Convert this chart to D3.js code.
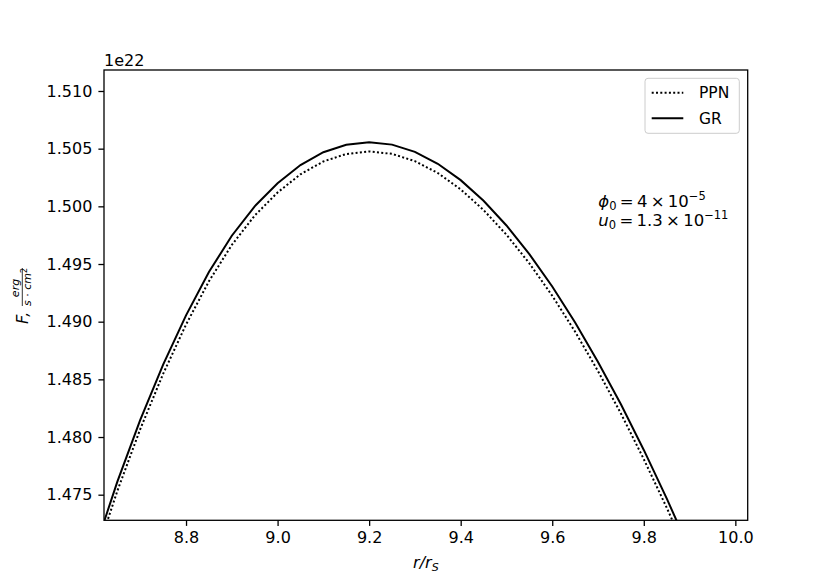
<!DOCTYPE html>
<html>
<head>
<meta charset="utf-8">
<script src="https://cdn.jsdelivr.net/npm/d3@7"></script>
<style>
  body { margin: 0; background: #fff; }
  svg text { font-family: "DejaVu Sans", sans-serif; fill: #000; }
</style>
</head>
<body>
<svg id="chart" width="831" height="585"></svg>
<script>
//-------------------------------------------------
// Data (flux values in units of 1e22)
//-------------------------------------------------
var radius = [8.60, 8.65, 8.70, 8.75, 8.80, 8.85, 8.90, 8.95, 9.00, 9.05, 9.10, 9.15, 9.20,
              9.25, 9.30, 9.35, 9.40, 9.45, 9.50, 9.55, 9.60, 9.65, 9.70, 9.75, 9.80, 9.85, 9.90];
var fluxGR  = [1.47017, 1.47613, 1.48149, 1.48628, 1.49055, 1.49430, 1.49745, 1.50000, 1.50200,
               1.50358, 1.50469, 1.50534, 1.50556, 1.50535, 1.50472, 1.50369, 1.50227, 1.50048,
               1.49834, 1.49586, 1.49305, 1.48993, 1.48651, 1.48284, 1.47888, 1.47468, 1.47023];
var fluxPPN = [1.46937, 1.47533, 1.48069, 1.48548, 1.48975, 1.49350, 1.49665, 1.49920, 1.50120,
               1.50278, 1.50389, 1.50454, 1.50476, 1.50455, 1.50392, 1.50289, 1.50147, 1.49968,
               1.49754, 1.49506, 1.49225, 1.48913, 1.48571, 1.48204, 1.47808, 1.47388, 1.46943];
var xTicks = [8.8, 9.0, 9.2, 9.4, 9.6, 9.8, 10.0];
var yTicks = [1.475, 1.480, 1.485, 1.490, 1.495, 1.500, 1.505, 1.510];
var seriesNames = ["PPN", "GR"];

//-------------------------------------------------
var margin = {top: 70, right: 83.3, bottom: 64.7, left: 104};
var W = 831, H = 585;
var width = W - margin.left - margin.right;
var height = H - margin.top - margin.bottom;

var svg = d3.select("#chart");
var g = svg.append("g").attr("transform", "translate(" + margin.left + "," + margin.top + ")");

var x = d3.scaleLinear().domain([8.6208, 10.027]).range([0, width]);
var y = d3.scaleLinear().domain([1.47278, 1.51182]).range([height, 0]);

g.append("defs").append("clipPath").attr("id", "clip")
  .append("rect").attr("width", width).attr("height", height);

// curves
var line = d3.line()
  .x(function(d, i) { return x(radius[i]); })
  .y(function(d) { return y(d); });

var plot = g.append("g").attr("clip-path", "url(#clip)");
plot.append("path")
  .datum(fluxPPN)
  .attr("d", line)
  .attr("fill", "none")
  .attr("stroke", "#000")
  .attr("stroke-width", 2)
  .attr("stroke-dasharray", "2,2.3");
plot.append("path")
  .datum(fluxGR)
  .attr("d", line)
  .attr("fill", "none")
  .attr("stroke", "#000")
  .attr("stroke-width", 2);

// axes
var xAxis = g.append("g")
  .attr("transform", "translate(0," + height + ")")
  .call(d3.axisBottom(x).tickValues(xTicks).tickFormat(d3.format(".1f")).tickSizeOuter(0).tickSize(5.6).tickPadding(6));
var yAxis = g.append("g")
  .call(d3.axisLeft(y).tickValues(yTicks).tickFormat(d3.format(".3f")).tickSizeOuter(0).tickSize(5.6).tickPadding(6));
[xAxis, yAxis].forEach(function(a) {
  a.select(".domain").remove();
  a.selectAll("line").attr("stroke", "#000").attr("stroke-width", 1.3);
  a.selectAll("text").attr("font-size", 16).style("font-family", "DejaVu Sans");
});

// frame
g.append("rect")
  .attr("width", width).attr("height", height)
  .attr("fill", "none").attr("stroke", "#000").attr("stroke-width", 1.3);

// offset text
g.append("text").attr("x", 0).attr("y", -4).attr("font-size", 16).text("1e22");

// x label r/r_S
var xl = svg.append("text")
  .attr("x", margin.left + width / 2).attr("y", 568)
  .attr("text-anchor", "middle").attr("font-size", 16);
xl.append("tspan").attr("font-style", "italic").text("r/r");
xl.append("tspan").attr("font-style", "italic").attr("font-size", 11).attr("dy", 3).text("S");

// y label F, erg / (s·cm²)
var yl = svg.append("g").attr("transform", "rotate(-90)");
yl.append("text").attr("x", -324).attr("y", 28.3).attr("font-size", 16)
  .attr("font-style", "italic").text("F,");
yl.append("text").attr("x", -288).attr("y", 18.8).attr("font-size", 11)
  .attr("text-anchor", "middle").attr("font-style", "italic").text("erg");
yl.append("line").attr("x1", -306).attr("x2", -268).attr("y1", 22.3).attr("y2", 22.3)
  .attr("stroke", "#000").attr("stroke-width", 0.8);
var den = yl.append("text").attr("x", -287).attr("y", 31.2).attr("font-size", 11)
  .attr("text-anchor", "middle");
den.append("tspan").attr("font-style", "italic").text("s");
den.append("tspan").text(" \u00b7 ");
den.append("tspan").attr("font-style", "italic").text("cm");
den.append("tspan").attr("font-size", 8).attr("dy", -4).text("2");

// legend
var leg = g.append("g").attr("transform", "translate(" + (645 - margin.left) + "," + (78.3 - margin.top) + ")");
leg.append("rect")
  .attr("width", 94.3).attr("height", 55).attr("rx", 3)
  .attr("fill", "#fff").attr("fill-opacity", 0.8)
  .attr("stroke", "#cccccc").attr("stroke-width", 1);
seriesNames.forEach(function(name, i) {
  var ly = 14.4 + i * 25.6;
  leg.append("line").attr("x1", 6.7).attr("x2", 38.3).attr("y1", ly).attr("y2", ly)
    .attr("stroke", "#000").attr("stroke-width", 2)
    .attr("stroke-dasharray", name == "PPN" ? "2,2.3" : null);
  leg.append("text").attr("x", 54).attr("y", ly + 5.5).attr("font-size", 15.5).text(name);
});

// annotation
var ann = svg.append("g").attr("font-size", 16.5);
var t1 = ann.append("text").attr("x", 598.3).attr("y", 207);
t1.append("tspan").attr("font-style", "italic").text("\u03d5");
t1.append("tspan").attr("font-size", 11.5).attr("dy", 3).text("0");
t1.append("tspan").attr("dy", -3).text("\u2009=\u20094\u2009\u00d7\u200910");
t1.append("tspan").attr("font-size", 11.5).attr("dy", -7).text("\u22125");
var t2 = ann.append("text").attr("x", 598.3).attr("y", 226);
t2.append("tspan").attr("font-style", "italic").text("u");
t2.append("tspan").attr("font-size", 11.5).attr("dy", 3).text("0");
t2.append("tspan").attr("dy", -3).text("\u2009=\u20091.3\u2009\u00d7\u200910");
t2.append("tspan").attr("font-size", 11.5).attr("dy", -7).text("\u221211");
</script>
</body>
</html>
